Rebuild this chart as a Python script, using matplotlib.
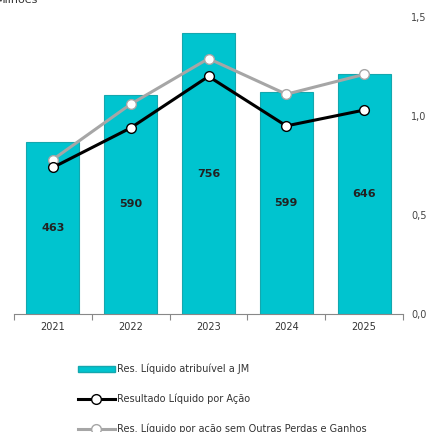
import matplotlib.pyplot as plt
from matplotlib.lines import Line2D
from matplotlib.patches import Patch
from matplotlib.ticker import FuncFormatter

# dados
anos = ['2021', '2022', '2023', '2024', '2025']
res_liquido = [463, 590, 756, 599, 646]
rla = [0.74, 0.94, 1.20, 0.95, 1.03]
rla_sem_opg = [0.78, 1.06, 1.29, 1.11, 1.21]

cor_barra = '#00C4CF'
cor_borda = '#14A7AE'

fig = plt.figure(figsize=(4.30, 4.32), dpi=100)
ax = fig.add_axes([14 / 430, 118 / 432, 389 / 430, 297 / 432])
ax2 = ax.twinx()

x = list(range(len(anos)))
ax.bar(x, res_liquido, width=0.68, color=cor_barra, edgecolor=cor_borda, linewidth=0.8, zorder=2)
for xi, v in zip(x, res_liquido):
    ax.text(xi, v / 2, str(v), ha='center', va='center', fontsize=8, fontweight='bold',
            color='#222222', family='DejaVu Sans')
ax.set_ylim(0, 800)
ax.set_xlim(-0.5, len(anos) - 0.5)
ax.set_yticks([])

# linhas
ax2.plot(x, rla_sem_opg, color='#A6A6A6', linewidth=2.2, marker='o', markersize=7,
         markerfacecolor='white', markeredgecolor='#A6A6A6', markeredgewidth=1.0, zorder=3)
ax2.plot(x, rla, color='black', linewidth=2.2, marker='o', markersize=7,
         markerfacecolor='white', markeredgecolor='black', markeredgewidth=1.0, zorder=4)
ax2.set_ylim(0, 1.5)
ax2.set_yticks([0, 0.5, 1.0, 1.5])
ax2.yaxis.set_major_formatter(FuncFormatter(lambda v, p: f'{v:.1f}'.replace('.', ',')))
ax2.tick_params(axis='y', length=0, pad=6, labelsize=7, labelcolor='#444444')

for a in (ax, ax2):
    for s in ('top', 'left', 'right'):
        a.spines[s].set_visible(False)
ax2.spines['bottom'].set_visible(False)
ax.spines['bottom'].set_color('#888888')
ax.spines['bottom'].set_linewidth(0.8)

# ticks nas fronteiras das categorias
ax.set_xticks([i - 0.5 for i in range(len(anos) + 1)])
ax.set_xticklabels([])
ax.tick_params(axis='x', which='major', length=4, color='#888888', direction='out')
ax.set_xticks(x, minor=True)
ax.set_xticklabels(anos, minor=True)
ax.tick_params(axis='x', which='minor', length=0, pad=6, labelsize=7, labelcolor='#333333')

fig.text(-0.01, 1.0, 'Milhões', ha='left', va='center', fontsize=8, color='#333333')

handles = [
    Patch(facecolor=cor_barra, edgecolor=cor_borda, label='Res. Líquido atribuível a JM'),
    Line2D([0], [0], color='black', linewidth=2.2, marker='o', markersize=7,
           markerfacecolor='white', markeredgecolor='black', label='Resultado Líquido por Ação'),
    Line2D([0], [0], color='#A6A6A6', linewidth=2.2, marker='o', markersize=7,
           markerfacecolor='white', markeredgecolor='#A6A6A6',
           label='Res. Líquido por ação sem Outras Perdas e Ganhos'),
]
fig.legend(handles=handles, loc='upper left', bbox_to_anchor=(69 / 430, 1 - 355 / 432),
           frameon=False, fontsize=7, handlelength=3.8, handleheight=0.6,
           handletextpad=0.2, labelspacing=2.0, labelcolor='#333333')

fig.savefig('out.png', dpi=100)
